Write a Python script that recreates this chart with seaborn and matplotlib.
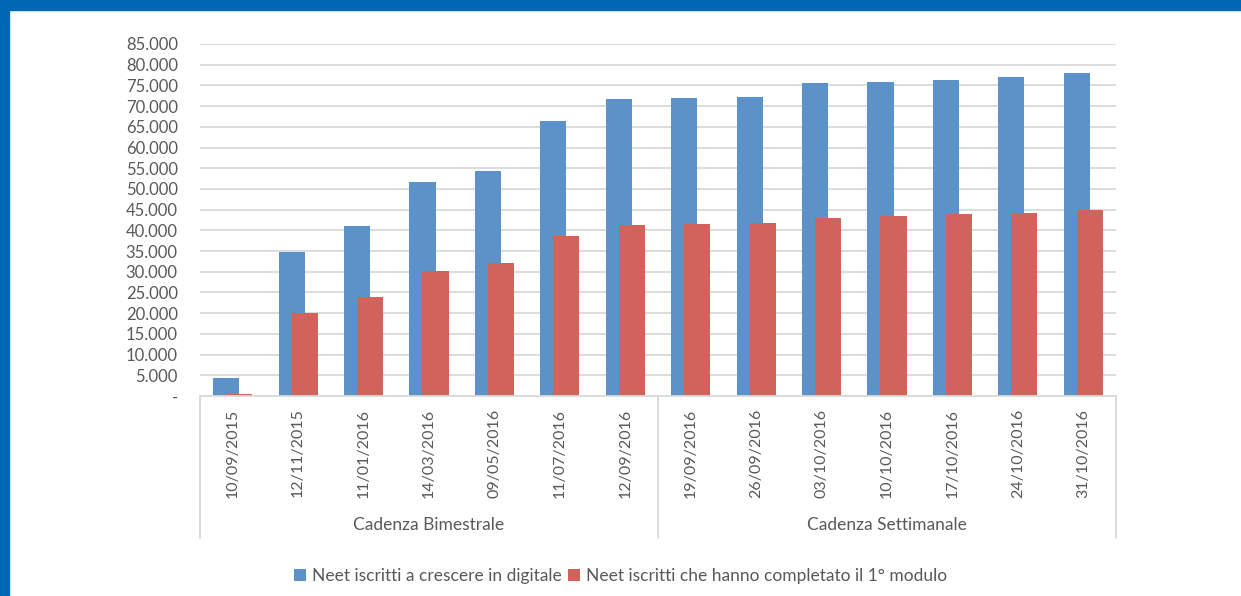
import numpy as np
import seaborn as sns
import matplotlib.pyplot as plt
from matplotlib.patches import Rectangle
from matplotlib.ticker import FuncFormatter

# dates of the survey and the two groups they belong to
dates = ['10/09/2015', '12/11/2015', '11/01/2016', '14/03/2016', '09/05/2016',
         '11/07/2016', '12/09/2016', '19/09/2016', '26/09/2016', '03/10/2016',
         '10/10/2016', '17/10/2016', '24/10/2016', '31/10/2016']
groups = ['Cadenza Bimestrale', 'Cadenza Settimanale']
group_sizes = [7, 7]

iscritti = [4300, 34800, 41100, 51700, 54300, 66400, 71700,
            71900, 72100, 75500, 75900, 76300, 77000, 78000]
completato = [500, 20100, 24000, 30300, 32200, 38600, 41300,
              41500, 41700, 43100, 43500, 43900, 44300, 44900]

label_blue = 'Neet iscritti a crescere in digitale'
label_red = 'Neet iscritti che hanno completato il 1° modulo'

grey_text = '#595959'
grid_col = '#d9d9d9'

sns.set_style('white')
plt.rcParams['font.family'] = ['Lato', 'DejaVu Sans']

fig = plt.figure(figsize=(12.41, 5.96), dpi=100)
ax = fig.add_axes([200 / 1241, 1 - 396 / 596, 916 / 1241, 352 / 596])

idx = np.arange(len(dates))
sns.barplot(x=idx - 0.1, y=iscritti, native_scale=True, width=0.4,
            color='#5b93c9', saturation=1, errorbar=None, linewidth=0,
            label=label_blue, ax=ax)
sns.barplot(x=idx + 0.1, y=completato, native_scale=True, width=0.4,
            color='#d0635c', saturation=1, errorbar=None, linewidth=0,
            label=label_red, ax=ax)

ax.set_xlim(-0.5, len(dates) - 0.5)
ax.set_ylim(0, 85000)
ax.set_yticks(np.arange(0, 85001, 5000))
ax.yaxis.set_major_formatter(FuncFormatter(
    lambda v, p: '-' if v == 0 else f'{int(v):,}'.replace(',', '.')))
ax.set_xticks(idx)
ax.set_xticklabels(dates, rotation=90)
ax.tick_params(axis='y', length=0, pad=16, labelsize=12, labelcolor=grey_text)
ax.tick_params(axis='x', length=0, pad=9, labelsize=11.5, labelcolor=grey_text)
ax.yaxis.grid(True, color=grid_col, linewidth=1.3)
ax.set_axisbelow(True)
for s in ['top', 'right', 'left']:
    ax.spines[s].set_visible(False)
ax.spines['bottom'].set_color(grid_col)
ax.spines['bottom'].set_linewidth(1.3)
ax.set_xlabel('')
ax.set_ylabel('')

# multi-level category axis
trans = ax.get_xaxis_transform()
bounds = np.concatenate([[0], np.cumsum(group_sizes)]) - 0.5
for b in bounds:
    ax.plot([b, b], [0, -0.403], transform=trans, clip_on=False,
            color=grid_col, linewidth=1.3)
for g, lo, hi in zip(groups, bounds[:-1], bounds[1:]):
    ax.text((lo + hi) / 2, -0.366, g, transform=trans, ha='center', va='center',
            fontsize=12.5, color=grey_text)

if ax.get_legend():
    ax.get_legend().remove()
handles, labels = ax.get_legend_handles_labels()
fig.legend(handles, labels, loc='center', bbox_to_anchor=(0.5, 1 - 576 / 596),
           ncol=2, frameon=False, handlelength=0.7, handleheight=0.7,
           handletextpad=0.3, columnspacing=0.4, fontsize=12.5, labelcolor=grey_text)

# blue frame on the top and left edges
fig.patches.append(Rectangle((0, 1 - 10 / 596), 1, 10 / 596, transform=fig.transFigure,
                             color='#0067b4', zorder=10))
fig.patches.append(Rectangle((0, 0), 9 / 1241, 1, transform=fig.transFigure,
                             color='#0067b4', zorder=10))

fig.savefig('out.png', dpi=100)
